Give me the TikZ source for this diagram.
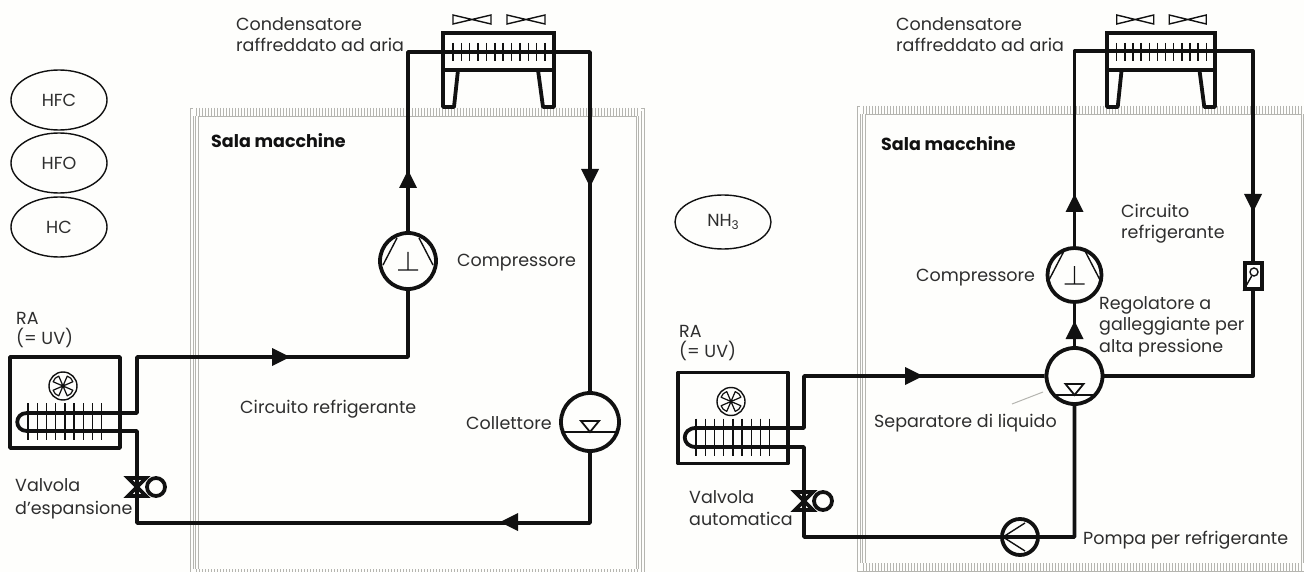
\documentclass[tikz,border=0pt]{standalone}
\usepackage{fontspec}
\setmainfont{Poppins}[Ligatures=ResetAll]
\usetikzlibrary{shapes.geometric}
\definecolor{ink}{HTML}{111111}
\definecolor{txt}{HTML}{2E2E2E}
\definecolor{wallc}{HTML}{B5B5B0}
\definecolor{paper}{HTML}{FEFEFC}
\tikzset{
  pipe/.style={draw=ink,line width=3.8pt,line join=round},
  thin sym/.style={draw=ink,line width=1.4pt},
  lab/.style={anchor=base west,inner sep=0pt,text=txt,font=\fontsize{17.5}{20}\selectfont},
  ring/.style={circle,draw=ink,line width=3.8pt,fill=paper,inner sep=0pt,minimum size=#1},
  gas/.style={ellipse,draw=ink,line width=1.4pt,inner sep=0pt,minimum width=96pt,minimum height=#1,text=txt,font=\fontsize{17.5}{20}\selectfont},
  pics/compr/.style={code={
    \draw[thin sym] (-11,-23)--(-25,4) (11,-23)--(25,4) (0,-9)--(0,9) (-10,9)--(10,9);}},
  pics/recv/.style={code={
    \draw[thin sym,line width=1.8pt] (-#1,10)--(#1,10);
    \draw[thin sym,line width=1.8pt] (-9,-1)--(9,-1)--(0,10)--cycle;}},
  pics/pumpsym/.style={code={
    \draw[thin sym] (5,-14)--(-17,0)--(5,14);}},
  pics/valvesym/.style={code={
    \draw[draw=ink,line width=3.8pt,line join=miter] (-9,-9)--(9,-9)--(-9,9)--(9,9)--cycle;}},
  pics/evap/.style={code={
    \draw[pipe] (0,-65) rectangle (110,26);
    \foreach \i in {0,...,8} \draw[thin sym] ({18+\i*9.2},-19)--({18+\i*9.2},18);
    \draw[thin sym] (53,-36) circle (14);
    \foreach \a in {45,135,225,315}
      \draw[thin sym,line width=1.2pt,shift={(53,-36)},rotate=\a,line join=round] (0,0)--(10,-4)--(11,0)--(10,4)--cycle;}},
  pics/cond/.style={code={
    \draw[draw=ink,line width=3.8pt] (0,0) rectangle (111,37);
    \foreach \i in {0,...,11} \draw[thin sym] ({10+\i*8.36},10)--({10+\i*8.36},28);
    \draw[draw=ink,line width=3.8pt,line join=round] (0,37)--(0,74)--(11,74)--(15,37);
    \draw[draw=ink,line width=3.8pt,line join=round] (111,37)--(111,74)--(100,74)--(95,37);
    \draw[thin sym] (10,-18)--(48,-9)--(48,-18)--(10,-9)--cycle;
    \draw[thin sym] (64,-18)--(102,-9)--(102,-18)--(64,-9)--cycle;}}
}
\newcommand{\wallband}[4]{% outer x0,y0,x1,y1
  \begin{scope}[draw=wallc,line width=.8pt]
  \foreach \d in {0,3,5.5,8}{
    \draw (#1+\d,#2+\d) rectangle (#3-\d,#4-\d);}
  \fill[paper] (#1+3,#2+.4) rectangle (#3-3,#2+7.6);
  \fill[paper] (#1+3,#4-7.6) rectangle (#3-3,#4-.4);
  \pgfmathsetmacro{\xb}{#1+6}
  \pgfmathsetmacro{\xc}{#1+9}
  \foreach \x in {\xb,\xc,...,#3}{
    \ifdim\x pt<\dimexpr#3pt-5pt\relax
    \draw[line width=.6pt] (\x,#2) -- (\x,#2+8);
    \draw[line width=.6pt] (\x,#4-8) -- (\x,#4);
    \fi}
  \end{scope}}
\newcommand{\flowR}[2]{\fill[ink] (#1-8,#2-9)--(#1+10,#2)--(#1-8,#2+9)--cycle;}
\newcommand{\flowL}[2]{\fill[ink] (#1+8,#2-9)--(#1-10,#2)--(#1+8,#2+9)--cycle;}
\newcommand{\flowU}[2]{\fill[ink] (#1-9,#2+8)--(#1,#2-10)--(#1+9,#2+8)--cycle;}
\newcommand{\flowD}[2]{\fill[ink] (#1-9,#2-8)--(#1,#2+10)--(#1+9,#2-8)--cycle;}
\begin{document}
\begin{tikzpicture}[x=1pt,y=-1pt]
\useasboundingbox (0,0) rectangle (1304,572);
\fill[paper] (0,0) rectangle (1304,572);
\clip (0,0) rectangle (1304,572);

% machine-room walls
\wallband{190}{108}{644}{577}
\wallband{857}{106}{1309}{571}

% ---------- left circuit ----------
\node[ring=56pt] (compL) at (408,261) {};
\path (408,261) pic {compr};
\node[ring=58pt] (collL) at (590,422) {};
\path (590,422) pic {recv={26}};
\coordinate (valveL) at (137,487);
\coordinate (cL1) at (408,52); \coordinate (cL2) at (590,52);
\coordinate (aL1) at (408,357); \coordinate (aL2) at (137,357); \coordinate (aL3) at (137,413);
\coordinate (bL1) at (137,431); \coordinate (bL2) at (137,523); \coordinate (bL3) at (590,523);

\draw[pipe] (compL.north) -- (cL1) -- (cL2) -- (collL.north);
\draw[pipe] (compL.south) -- (aL1) -- (aL2) -- (aL3) -- (27,413) .. controls (14,413) and (14,431) .. (27,431) -- (bL1) -- (valveL) -- (bL2) -- (bL3) -- (collL.south);
\path (10,422) pic {evap};
\path (443,33) pic {cond};
\path (valveL) pic {valvesym};
\node[ring=18pt] (pilotL) at (156,487) {};
\flowU{408}{180}
\flowD{590}{177}
\flowR{280}{357}
\flowL{510}{522}

% ---------- right circuit ----------
\node[ring=54pt] (compR) at (1074.5,275) {};
\path (1074.5,275) pic {compr};
\node[ring=56pt] (sepR) at (1074.5,376) {};
\path (1074.5,385) pic {recv={21}};
\node[ring=36pt] (pumpR) at (1020,537) {};
\path (1020,537) pic {pumpsym};
\coordinate (valveR) at (804,501);
\coordinate (cR1) at (1074.5,51); \coordinate (cR2) at (1253,51); \coordinate (cR3) at (1253,376);
\coordinate (aR1) at (804,376); \coordinate (aR2) at (804,428);
\coordinate (bR1) at (804,447); \coordinate (bR2) at (804,537); \coordinate (bR3) at (1074.5,537);

\draw[pipe] (compR.north) -- (cR1) -- (cR2) -- (cR3) -- (sepR.east);
\draw[pipe] (sepR.north) -- (compR.south);
\draw[pipe] (sepR.west) -- (aR1) -- (aR2) -- (696,428) .. controls (681,428) and (681,447) .. (696,447) -- (bR1) -- (valveR) -- (bR2) -- (pumpR.west) -- (pumpR.east) -- (bR3) -- (sepR.south);
\path (678,437.5) pic {evap};
\path (1107,33) pic[xscale=.973] {cond};
\path (valveR) pic {valvesym};
\node[ring=18pt] (pilotR) at (823,501) {};
\node[rectangle,draw=ink,line width=3.5pt,fill=paper,minimum width=17pt,minimum height=26pt,inner sep=0pt] (regbox) at (1253.5,276) {};
\node[circle,draw=ink,line width=1.4pt,inner sep=0pt,minimum size=8pt] (regball) at (1254,272) {};
\draw[thin sym] (regball) -- (regbox.south west);
\flowU{1074.5}{204}
\flowU{1074.5}{331}
\flowD{1253}{202}
\flowR{913}{376}

% gas ellipses
\node[gas=60pt] (hfc) at (59,100) {HFC};
\node[gas=60pt] (hfo) at (59,163) {HFO};
\node[gas=60pt] (hc) at (59,227) {HC};
\node[gas=54pt] (nh) at (723,222) {NH\raisebox{-3pt}{\fontsize{12}{12}\selectfont 3}};

% ---------- labels ----------
\node[lab] (l1) at (236,31) {Condensatore};
\node[lab] (l2) at (236,52) {raffreddato ad aria};
\node[lab,font=\fontsize{17.5}{20}\selectfont\bfseries,text=ink] (l3) at (211,148) {Sala macchine};
\node[lab] (l4) at (457,266) {Compressore};
\node[lab] (l5) at (466,429) {Collettore};
\node[lab] (l6) at (240,413) {Circuito refrigerante};
\node[lab] (l7) at (16,324) {RA};
\node[lab] (l8) at (16,344) {(= UV)};
\node[lab] (l9) at (15,491) {Valvola};
\node[lab] (l10) at (15,514) {d'espansione};

\node[lab] (r1) at (896,31) {Condensatore};
\node[lab] (r2) at (896,52) {raffreddato ad aria};
\node[lab,font=\fontsize{17.5}{20}\selectfont\bfseries,text=ink] (r3) at (881,151) {Sala macchine};
\node[lab] (r4) at (1121,218) {Circuito};
\node[lab] (r5) at (1121,239) {refrigerante};
\node[lab] (r6) at (916,281) {Compressore};
\node[lab] (r7) at (1099,309) {Regolatore a};
\node[lab] (r8) at (1099,330) {galleggiante per};
\node[lab] (r9) at (1099,352) {alta pressione};
\node[lab] (r10) at (874,427) {Separatore di liquido};
\node[lab] (r11) at (679,337) {RA};
\node[lab] (r12) at (679,357) {(= UV)};
\node[lab] (r13) at (689,503) {Valvola};
\node[lab] (r14) at (689,525) {automatica};
\node[lab] (r15) at (1083,544) {Pompa per refrigerante};
\coordinate (lead) at (1012,404);
\draw[draw=wallc,line width=1pt] (lead) -- (1043,392);
\end{tikzpicture}
\end{document}
